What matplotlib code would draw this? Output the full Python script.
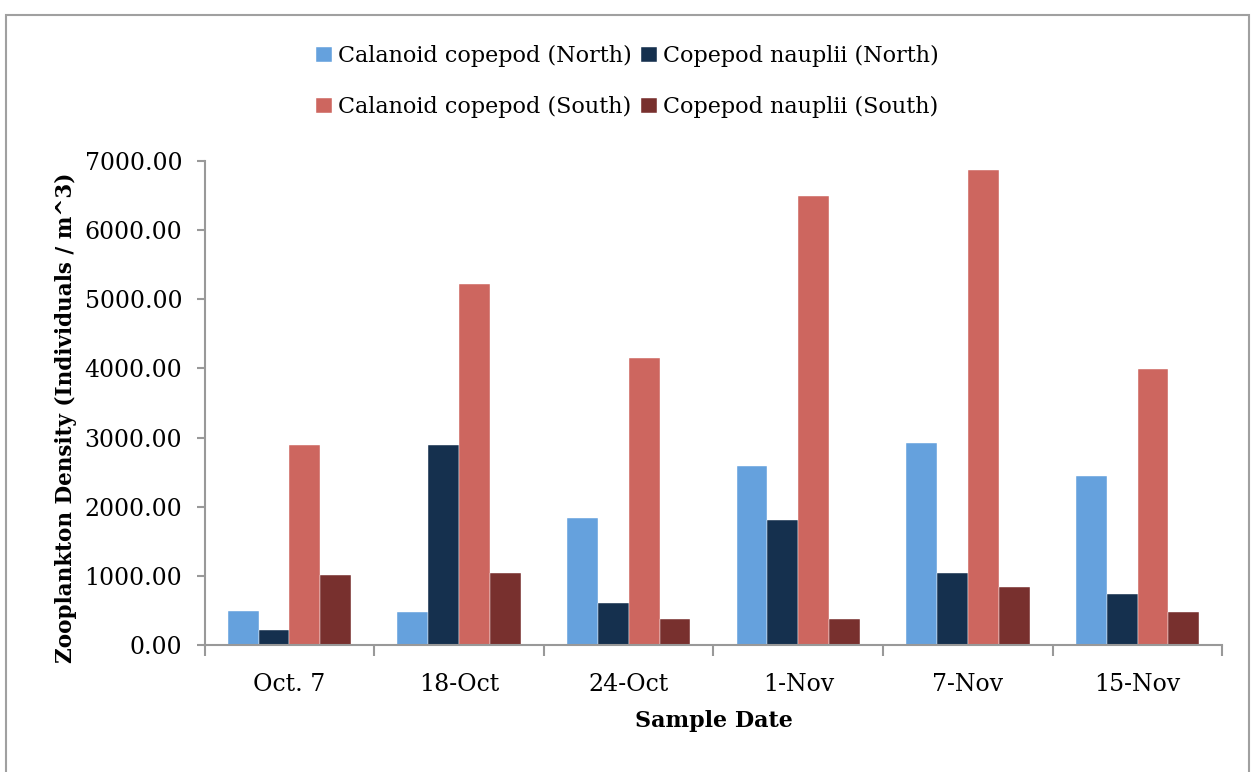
import numpy as np
import matplotlib
matplotlib.use('Agg')
import matplotlib.pyplot as plt
from matplotlib.patches import Rectangle

dates = ["Oct. 7", "18-Oct", "24-Oct", "1-Nov", "7-Nov", "15-Nov"]
calanoid_north = [490, 478, 1838, 2590, 2919, 2450]
nauplii_north = [212, 2890, 608, 1813, 1037, 738]
calanoid_south = [2890, 5217, 4147, 6494, 6875, 3997]
nauplii_south = [1018, 1037, 372, 376, 839, 473]

series = [
    ("Calanoid copepod (North)", calanoid_north, "#65A1DD"),
    ("Copepod nauplii (North)", nauplii_north, "#15304E"),
    ("Calanoid copepod (South)", calanoid_south, "#CD665F"),
    ("Copepod nauplii (South)", nauplii_south, "#78302E"),
]

plt.rcParams['font.family'] = ['DejaVu Serif']

fig = plt.figure(figsize=(12.55, 7.72), dpi=100)
ax = fig.add_axes([0.163, 0.1645, 0.811, 0.627])

# grey frame around the whole chart
fig.patches.append(Rectangle((0.005, -0.05), 0.99, 1.03, transform=fig.transFigure,
                             fill=False, edgecolor="#A0A0A0", linewidth=1.5))

x = np.arange(len(dates))
w = 0.182
handles = []
for i, (name, vals, col) in enumerate(series):
    b = ax.bar(x + (i - 1.5) * w, vals, width=w, color=col, label=name,
               edgecolor="white", linewidth=0.3)
    handles.append(b)

ax.set_xlim(-0.5, len(dates) - 0.5)
ax.set_ylim(0, 7000)
ax.set_yticks(np.arange(0, 7001, 1000))
ax.set_yticklabels([f"{v:.2f}" for v in np.arange(0, 7001, 1000)], fontsize=17)
ax.set_xticks(x)
ax.set_xticklabels(dates, fontsize=17)
ax.set_xticks(np.arange(-0.5, len(dates), 1), minor=True)
ax.tick_params(axis='x', which='major', length=0, pad=20)
ax.tick_params(axis='x', which='minor', length=8, color="#999999", width=1.5)
ax.tick_params(axis='y', length=6, color="#999999", width=1.5, pad=10)

for s in ["top", "right"]:
    ax.spines[s].set_visible(False)
for s in ["left", "bottom"]:
    ax.spines[s].set_color("#999999")
    ax.spines[s].set_linewidth(1.5)

ax.set_xlabel("Sample Date", fontsize=16, fontweight="bold", labelpad=10)
ax.set_ylabel("Zooplankton Density (Individuals / m^3)", fontsize=15.5,
              fontweight="bold")
ax.yaxis.set_label_coords(-0.125, 0.47)

order = [0, 2, 1, 3]
fig.legend([handles[i] for i in order], [series[i][0] for i in order],
           loc="center", bbox_to_anchor=(0.5, 0.894), ncol=2, frameon=False,
           fontsize=16, handlelength=0.7, handleheight=0.7, handletextpad=0.3,
           columnspacing=0.4, labelspacing=1.3)

fig.savefig("out.png", dpi=100)
